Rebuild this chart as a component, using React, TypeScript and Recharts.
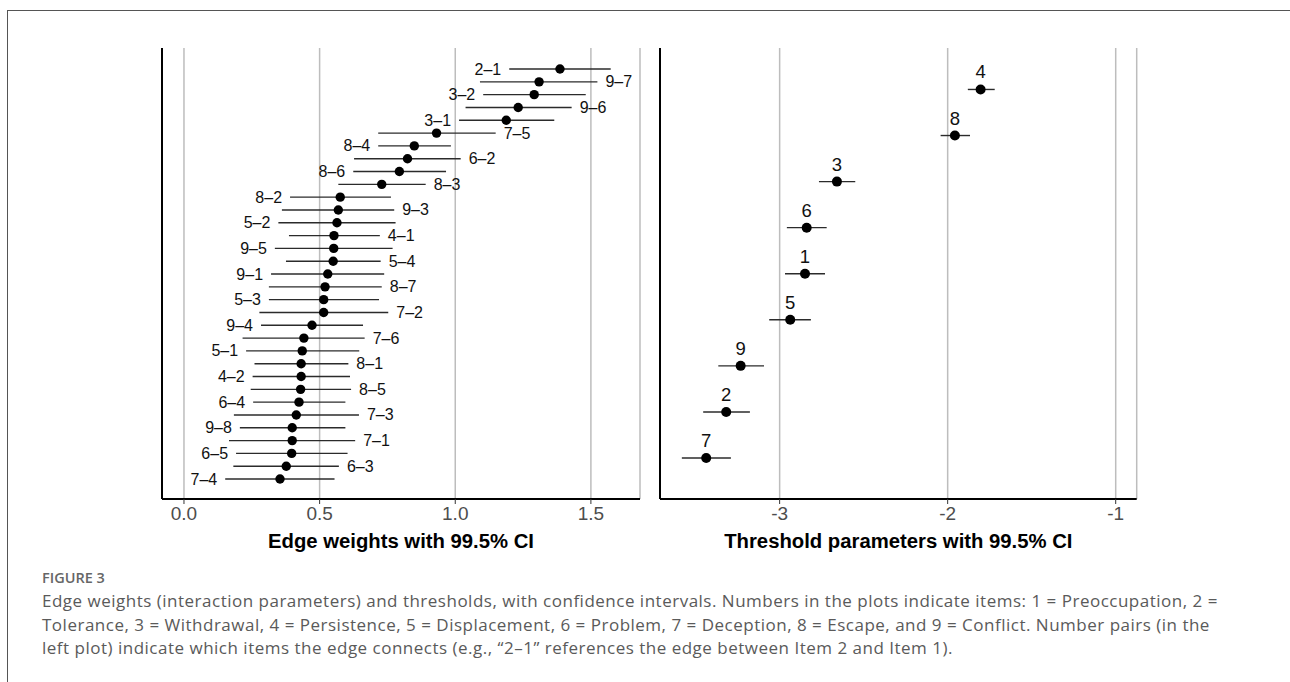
import React from 'react';
import { ScatterChart, Scatter, XAxis, YAxis, CartesianGrid, ErrorBar } from 'recharts';

// ---------- Left panel: edge weights ----------
const edgeLabels = ['2–1','9–7','3–2','9–6','3–1','7–5','8–4','6–2','8–6','8–3','8–2','9–3','5–2','4–1','9–5','5–4','9–1','8–7','5–3','7–2','9–4','7–6','5–1','8–1','4–2','8–5','6–4','7–3','9–8','7–1','6–5','6–3','7–4'];
const edgeEst = [1.386,1.309,1.291,1.232,1.188,0.931,0.849,0.824,0.794,0.729,0.576,0.569,0.564,0.553,0.552,0.550,0.530,0.520,0.515,0.515,0.472,0.442,0.436,0.432,0.432,0.430,0.424,0.414,0.399,0.399,0.397,0.377,0.354];
const edgeLow = [1.199,1.091,1.103,1.038,1.014,0.716,0.716,0.627,0.624,0.569,0.391,0.361,0.348,0.387,0.335,0.376,0.321,0.313,0.313,0.278,0.284,0.216,0.229,0.260,0.253,0.246,0.255,0.184,0.206,0.166,0.192,0.182,0.152];
const edgeHigh = [1.573,1.524,1.481,1.429,1.365,1.149,0.984,1.020,0.966,0.891,0.763,0.775,0.780,0.722,0.769,0.725,0.738,0.729,0.719,0.753,0.660,0.666,0.646,0.606,0.612,0.616,0.595,0.645,0.595,0.631,0.603,0.571,0.555];
const edgeTicks = [0, 0.5, 1.0, 1.5];

// ---------- Right panel: thresholds ----------
const thrLabels = ['4','8','3','6','1','5','9','2','7'];
const thrEst = [-1.804,-1.957,-2.659,-2.839,-2.849,-2.937,-3.232,-3.318,-3.437];
const thrLow = [-1.880,-2.042,-2.766,-2.957,-2.968,-3.062,-3.365,-3.455,-3.582];
const thrHigh = [-1.720,-1.867,-2.550,-2.720,-2.730,-2.814,-3.093,-3.177,-3.290];
const thrTicks = [-3, -2, -1];

const nE = edgeLabels.length;
const edgeData = edgeLabels.map((name, i) => ({
  name,
  x: edgeEst[i],
  y: nE - 1 - i,
  err: [edgeEst[i] - edgeLow[i], edgeHigh[i] - edgeEst[i]],
}));
const edgeLabelData = edgeLabels.map((name, i) => ({
  name,
  side: i % 2 === 0 ? 'left' : 'right',
  x: i % 2 === 0 ? edgeLow[i] : edgeHigh[i],
  y: nE - 1 - i,
}));

const nT = thrLabels.length;
const thrData = thrLabels.map((name, i) => ({
  name,
  x: thrEst[i],
  y: nT - 1 - i,
  err: [thrEst[i] - thrLow[i], thrHigh[i] - thrEst[i]],
}));

const FONT = '"Liberation Sans", Arial, Helvetica, sans-serif';

const EdgeDot = (props: any) => {
  const { cx, cy } = props;
  return <circle cx={cx} cy={cy} r={4.7} fill="#000" />;
};

const EdgeLabel = (props: any) => {
  const { cx, cy, payload } = props;
  const left = payload.side === 'left';
  return (
    <text
      x={cx + (left ? -8 : 8)}
      y={cy}
      textAnchor={left ? 'end' : 'start'}
      dominantBaseline="central"
      fontFamily={FONT}
      fontSize={16}
      fill="#111"
    >
      {payload.name}
    </text>
  );
};

const ThrDot = (props: any) => {
  const { cx, cy, payload } = props;
  return (
    <g>
      <circle cx={cx} cy={cy} r={5} fill="#000" />
      <text x={cx} y={cy - 11} textAnchor="middle" fontFamily={FONT} fontSize={18.5} fill="#111">
        {payload.name}
      </text>
    </g>
  );
};

const tickStyle = { fill: '#4d4d4d', fontSize: 19, fontFamily: FONT };
const titleStyle = { fill: '#000', fontSize: 20.3, fontWeight: 'bold', fontFamily: FONT };

const captionLines = [
  'Edge weights (interaction parameters) and thresholds, with confidence intervals. Numbers in the plots indicate items: 1 = Preoccupation, 2 =',
  'Tolerance, 3 = Withdrawal, 4 = Persistence, 5 = Displacement, 6 = Problem, 7 = Deception, 8 = Escape, and 9 = Conflict. Number pairs (in the',
  'left plot) indicate which items the edge connects (e.g., “2–1” references the edge between Item 2 and Item 1).',
];

export default function App() {
  return (
    <div style={{ position: 'absolute', left: 0, top: 0, width: 1290, height: 682, background: '#fff', overflow: 'hidden' }}>
      <div style={{ position: 'absolute', left: 7, top: 10, width: 1290, height: 680, borderTop: '1px solid #555', borderLeft: '1px solid #555' }} />

      <div style={{ position: 'absolute', left: 0, top: 0 }}>
        <ScatterChart width={660} height={560} margin={{ top: 48, right: 20, bottom: 11, left: 161 }}>
          <CartesianGrid horizontal={false} stroke="#bdbdbd" strokeWidth={1.5} />
          <XAxis
            type="number"
            dataKey="x"
            domain={[-0.081, 1.681]}
            allowDataOverflow
            ticks={edgeTicks}
            tickFormatter={(v: number) => v.toFixed(1)}
            height={50}
            tick={tickStyle}
            tickSize={5}
            tickMargin={3}
            tickLine={{ stroke: '#333', strokeWidth: 1 }}
            axisLine={{ stroke: '#000', strokeWidth: 2 }}
            label={{ value: 'Edge weights with 99.5% CI', position: 'insideBottom', offset: 1, style: titleStyle }}
          />
          <YAxis
            type="number"
            dataKey="y"
            domain={[-1.56, 33.64]}
            allowDataOverflow
            width={1}
            tick={false}
            tickLine={false}
            axisLine={{ stroke: '#000', strokeWidth: 2 }}
          />
          <Scatter data={edgeData} shape={EdgeDot} isAnimationActive={false}>
            <ErrorBar dataKey="err" direction="x" width={0} stroke="#2b2b2b" strokeWidth={1.4} />
          </Scatter>
          <Scatter data={edgeLabelData} shape={EdgeLabel} isAnimationActive={false} />
        </ScatterChart>
      </div>

      <div style={{ position: 'absolute', left: 640, top: 0 }}>
        <ScatterChart width={520} height={560} margin={{ top: 48, right: 23.3, bottom: 11, left: 19 }}>
          <CartesianGrid horizontal={false} stroke="#bdbdbd" strokeWidth={1.5} />
          <XAxis
            type="number"
            dataKey="x"
            domain={[-3.712, -0.875]}
            allowDataOverflow
            ticks={thrTicks}
            tickFormatter={(v: number) => String(v)}
            height={50}
            tick={tickStyle}
            tickSize={5}
            tickMargin={3}
            tickLine={{ stroke: '#333', strokeWidth: 1 }}
            axisLine={{ stroke: '#000', strokeWidth: 2 }}
            label={{ value: 'Threshold parameters with 99.5% CI', position: 'insideBottom', offset: 1, style: titleStyle }}
          />
          <YAxis
            type="number"
            dataKey="y"
            domain={[-0.89, 8.9]}
            allowDataOverflow
            width={1}
            tick={false}
            tickLine={false}
            axisLine={{ stroke: '#000', strokeWidth: 2 }}
          />
          <Scatter data={thrData} shape={ThrDot} isAnimationActive={false}>
            <ErrorBar dataKey="err" direction="x" width={0} stroke="#2b2b2b" strokeWidth={1.4} />
          </Scatter>
        </ScatterChart>
      </div>

      <div style={{ position: 'absolute', left: 42, top: 569, fontFamily: '"Open Sans", sans-serif', fontSize: 14.5, lineHeight: '18px', fontWeight: 600, color: '#666', whiteSpace: 'nowrap' }}>
        FIGURE 3
      </div>
      {captionLines.map((t, i) => (
        <div
          key={i}
          style={{
            position: 'absolute',
            left: 42,
            top: 590 + i * 23.6,
            fontFamily: '"Open Sans", sans-serif',
            fontSize: 17,
            letterSpacing: '0.5px',
            lineHeight: '22px',
            color: '#5a5a5a',
            whiteSpace: 'nowrap',
          }}
        >
          {t}
        </div>
      ))}
    </div>
  );
}
